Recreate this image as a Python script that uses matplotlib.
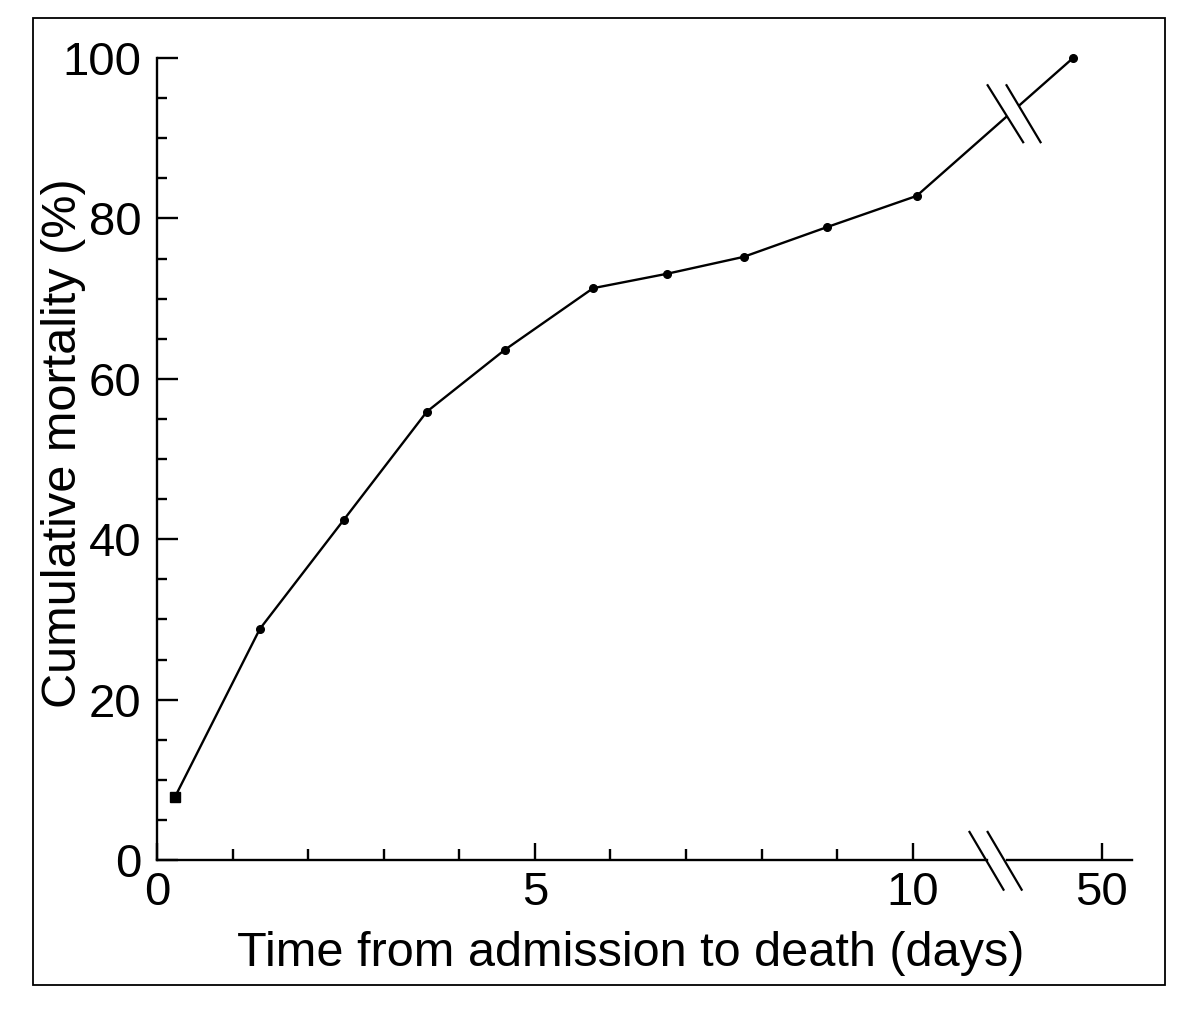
import matplotlib
matplotlib.use("Agg")
import matplotlib.pyplot as plt
from matplotlib.patches import Rectangle, Polygon

plt.rcParams['font.family'] = ['Liberation Sans', 'DejaVu Sans']

# x positions on the broken axis (after the break, 12.5 stands for 50 days)
x_pos = [0.24, 1.36, 2.47, 3.57, 4.60, 5.77, 6.75, 7.76, 8.86, 10.05, 12.12]
mortality = [7.9, 28.8, 42.4, 55.9, 63.6, 71.3, 73.1, 75.2, 78.9, 82.8, 100.0]

x_ticks = [0, 5, 10, 12.5]
x_ticklabels = ['0', '5', '10', '50']
x_minor = [1, 2, 3, 4, 6, 7, 8, 9]
y_ticks = [0, 20, 40, 60, 80, 100]
y_minor = [5, 10, 15, 25, 30, 35, 45, 50, 55, 65, 70, 75, 85, 90, 95]

fig = plt.figure(figsize=(12, 10.29), dpi=100)
ax = fig.add_axes([157/1200, 1 - 860/1029, (1132-157)/1200, (860-58)/1029])

# outer frame
fig.patches.append(Rectangle((33/1200, 1 - 985/1029), (1165-33)/1200, (985-18)/1029,
                             transform=fig.transFigure, fill=False, lw=1.3, ec='black'))

ax.plot(x_pos, mortality, color='black', lw=1.7, marker='o', ms=5.5, clip_on=False, zorder=3)
ax.plot(x_pos[0], mortality[0], color='black', marker='s', ms=6.5, clip_on=False, zorder=4)

ax.set_xlim(0, 12.9)
ax.set_ylim(0, 100)
for s in ['top', 'right', 'bottom']:
    ax.spines[s].set_visible(False)
ax.spines['left'].set_linewidth(1.7)

# bottom axis line with a break
tr = ax.get_xaxis_transform()
ax.plot([0, 10.98], [0, 0], color='black', lw=1.7, transform=tr, clip_on=False)
ax.plot([11.24, 12.9], [0, 0], color='black', lw=1.7, transform=tr, clip_on=False)
for dx in [0, 0.24]:
    ax.plot([10.75 + dx, 11.2 + dx], [0.035, -0.037], color='black', lw=1.6,
            transform=tr, clip_on=False)

# break marks on the curve
ax.add_patch(Polygon([(10.99, 96.6), (11.24, 96.6), (11.69, 89.5), (11.46, 89.5)],
                     closed=True, fc='white', ec='none', zorder=5))
for x0, x1 in [(10.99, 11.46), (11.24, 11.69)]:
    ax.plot([x0, x1], [96.6, 89.5], color='black', lw=1.6, zorder=6)

ax.set_xticks(x_ticks)
ax.set_xticklabels(x_ticklabels)
ax.set_xticks(x_minor, minor=True)
ax.set_yticks(y_ticks)
ax.set_yticks(y_minor, minor=True)
ax.tick_params(axis='both', which='both', direction='in', width=1.7, labelsize=34)
ax.tick_params(axis='x', which='major', length=12, pad=8)
ax.tick_params(axis='x', which='minor', length=8)
ax.tick_params(axis='y', which='major', length=15, pad=11)
ax.tick_params(axis='y', which='minor', length=7)

ax.set_xlabel('Time from admission to death (days)', fontsize=35)
ax.xaxis.set_label_coords(0.486, -0.088)
ax.set_ylabel('Cumulative mortality (%)', fontsize=35)
ax.yaxis.set_label_coords(-0.073, 0.52)

fig.savefig('out.png', dpi=100)
